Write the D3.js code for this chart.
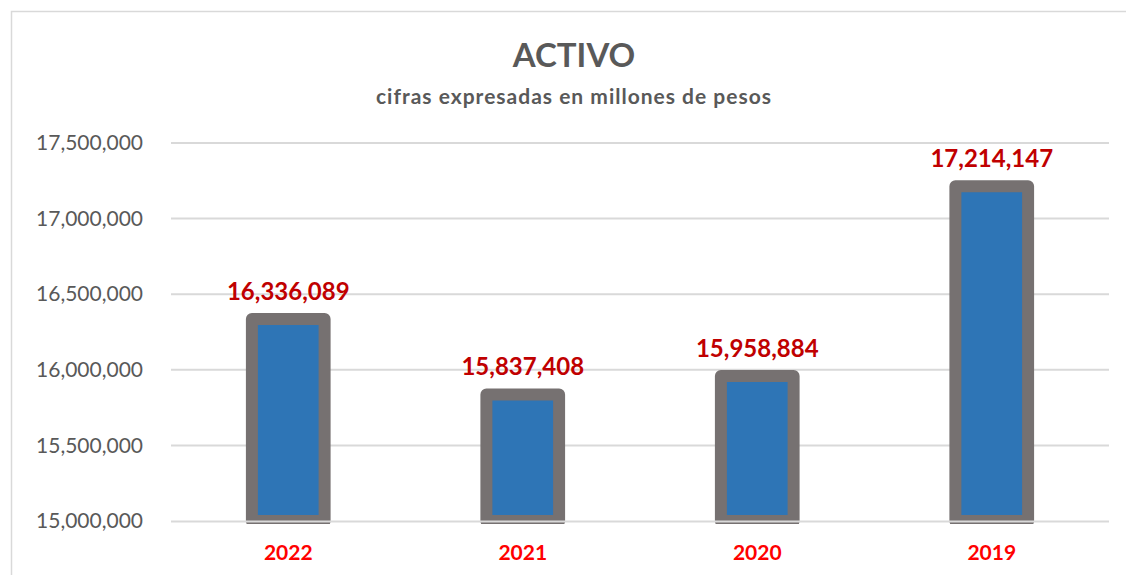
<!DOCTYPE html>
<html>
<head>
<meta charset="utf-8">
<script src="https://cdn.jsdelivr.net/npm/d3@7"></script>
<style>
  body { margin: 0; background: #fff; }
  text { font-family: Lato, Calibri, "Noto Sans", sans-serif; }
</style>
</head>
<body>
<div id="chart"></div>
<script>
// data
var years = ["2022", "2021", "2020", "2019"];
var activo = [16336089, 15837408, 15958884, 17214147];
var yTicks = [15000000, 15500000, 16000000, 16500000, 17000000, 17500000];

var dataset = years.map(function(y, i) { return { year: y, value: activo[i] }; });

function drawSvg(dataset) {
  var width = 1126;
  var height = 575;
  var left = 171, right = 1109, top = 143, bottom = 521;
  var fmt = d3.format(",");

  var svg = d3.select("#chart")
    .append("svg")
    .attr("width", width)
    .attr("height", height);

  // outer chart frame
  svg.append("rect")
    .attr("x", 11.5).attr("y", 11.5)
    .attr("width", 1200).attr("height", 700)
    .attr("fill", "#fff")
    .attr("stroke", "#d9d9d9")
    .attr("stroke-width", 1.5);

  var xScale = d3.scaleBand()
    .domain(years)
    .range([left, right])
    .paddingInner(0.69)
    .paddingOuter(0.345);

  var yScale = d3.scaleLinear()
    .domain([15000000, 17500000])
    .range([bottom, top]);

  // gridlines
  svg.append("g")
    .selectAll("line")
    .data(yTicks.slice(1))
    .enter()
    .append("line")
    .attr("x1", left).attr("x2", right)
    .attr("y1", d => yScale(d)).attr("y2", d => yScale(d))
    .attr("stroke", "#d9d9d9")
    .attr("stroke-width", 2);

  // y axis labels
  var yAxis = d3.axisLeft(yScale).tickValues(yTicks).tickFormat(fmt).tickSize(0).tickPadding(0);
  svg.append("g")
    .attr("id", "y-axis")
    .attr("transform", "translate(143,0)")
    .call(yAxis)
    .call(g => g.select(".domain").remove())
    .selectAll("text")
    .attr("fill", "#595959")
    .attr("font-size", 21)
    .attr("font-family", "Lato, Calibri, sans-serif");

  svg.append("clipPath").attr("id", "plot-clip")
    .append("rect").attr("x", 0).attr("y", 0).attr("width", width).attr("height", 524);

  // bars: gray thick outline with blue fill
  svg.append("g")
    .attr("clip-path", "url(#plot-clip)")
    .selectAll("rect")
    .data(dataset)
    .enter()
    .append("rect")
    .attr("class", "bar")
    .attr("x", d => xScale(d.year))
    .attr("y", d => yScale(d.value))
    .attr("width", xScale.bandwidth())
    .attr("height", d => bottom - yScale(d.value))
    .attr("fill", "#2e75b6")
    .attr("stroke", "#767171")
    .attr("stroke-width", 12)
    .attr("stroke-linejoin", "round");

  // baseline
  svg.append("line")
    .attr("x1", left).attr("x2", right)
    .attr("y1", bottom + 0.5).attr("y2", bottom + 0.5)
    .attr("stroke", "#d9d9d9")
    .attr("stroke-width", 2);

  // value labels
  svg.append("g")
    .selectAll("text")
    .data(dataset)
    .enter()
    .append("text")
    .attr("x", d => xScale(d.year) + xScale.bandwidth() / 2)
    .attr("y", d => yScale(d.value) - 19)
    .attr("text-anchor", "middle")
    .attr("font-size", 24)
    .attr("font-weight", "bold")
    .attr("fill", "#c00000")
    .text(d => fmt(d.value));

  // category labels
  var xAxis = d3.axisBottom(xScale).tickSize(0).tickPadding(0);
  svg.append("g")
    .attr("id", "x-axis")
    .attr("transform", "translate(0,560)")
    .call(xAxis)
    .call(g => g.select(".domain").remove())
    .selectAll("text")
    .attr("dy", 0)
    .attr("fill", "#ff0000")
    .attr("font-size", 21)
    .attr("font-weight", "bold")
    .attr("font-family", "Lato, Calibri, sans-serif");

  // titles
  svg.append("text")
    .attr("x", 574).attr("y", 67)
    .attr("text-anchor", "middle")
    .attr("font-size", 33)
    .attr("font-weight", "bold")
    .attr("fill", "#595959")
    .text("ACTIVO");

  svg.append("text")
    .attr("x", 574).attr("y", 104)
    .attr("text-anchor", "middle")
    .attr("font-size", 21)
    .attr("font-weight", "bold")
    .attr("letter-spacing", 1)
    .attr("fill", "#595959")
    .text("cifras expresadas en millones de pesos");
}

drawSvg(dataset);
</script>
</body>
</html>
